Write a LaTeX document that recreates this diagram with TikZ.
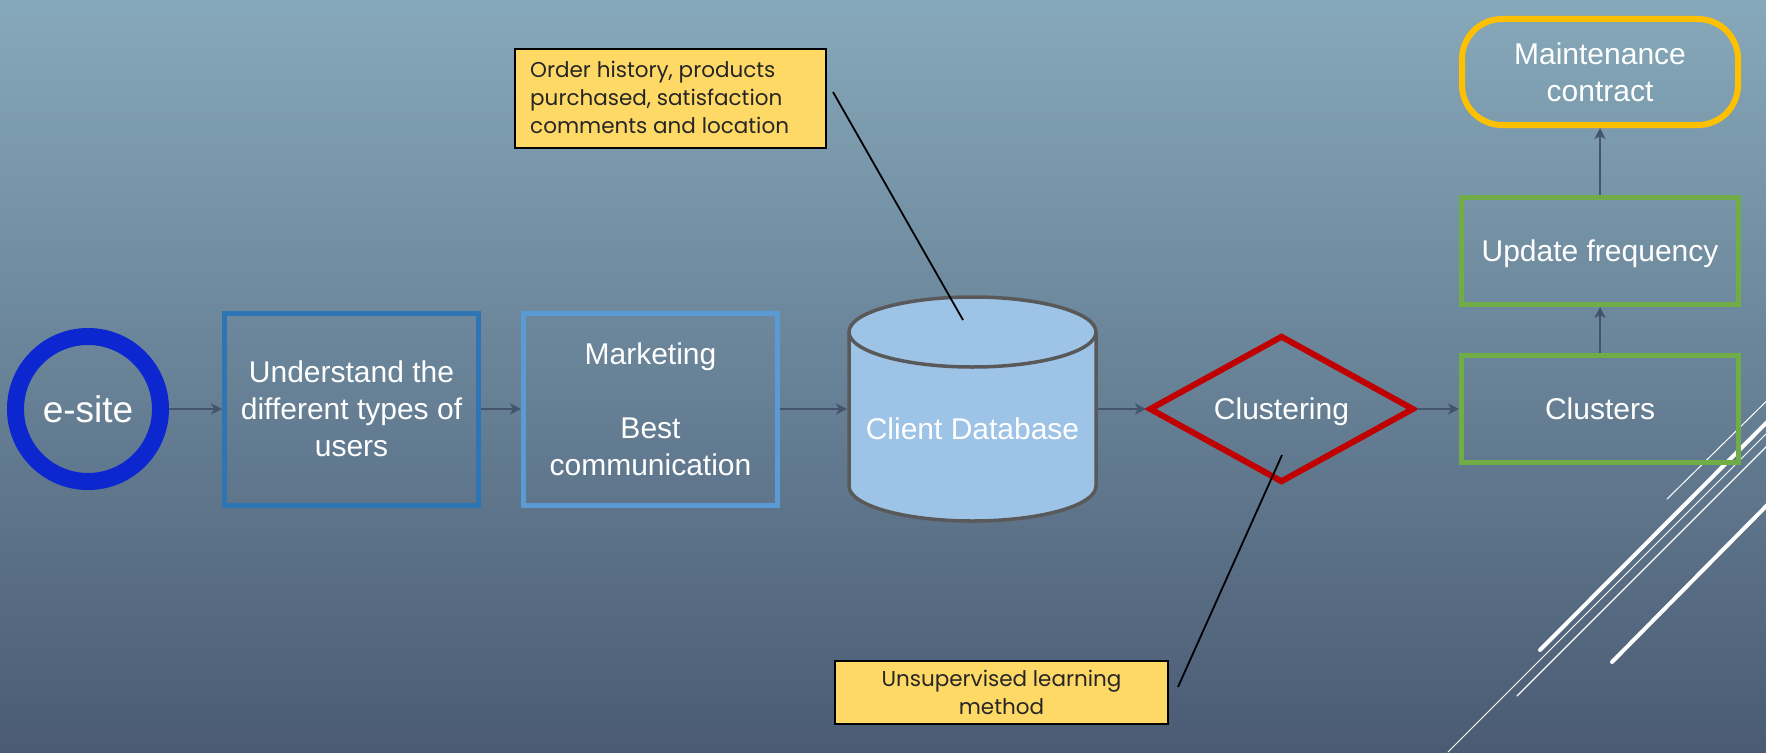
\documentclass[tikz,border=0pt]{standalone}
\usepackage{fontspec}
\setmainfont{Liberation Sans}
\newfontfamily\notefont{Poppins}
\usetikzlibrary{shapes.geometric,arrows.meta}
\definecolor{bgtop}{HTML}{86A9BA}
\definecolor{bgbot}{HTML}{4A5B73}
\definecolor{arr}{HTML}{44546A}
\definecolor{blueA}{HTML}{2E75B6}
\definecolor{blueB}{HTML}{5B9BD5}
\definecolor{ringblue}{HTML}{0C26D0}
\definecolor{dbfill}{HTML}{9DC3E6}
\definecolor{dbline}{HTML}{595959}
\definecolor{redD}{HTML}{C00000}
\definecolor{greenB}{HTML}{70AD47}
\definecolor{goldB}{HTML}{FFC000}
\definecolor{noteY}{HTML}{FFD966}
\tikzset{
  boxtext/.style={text=white,font=\fontsize{30}{37}\selectfont,align=center},
  stepbox/.style={rectangle,draw,line width=5pt,boxtext,minimum width=254pt,minimum height=192pt,inner sep=0pt},
  greenbox/.style={rectangle,draw=greenB,line width=5pt,boxtext,text depth=0pt,minimum width=277pt,minimum height=107pt,inner sep=0pt},
  flow/.style={draw=arr,line width=2.5pt,-{Stealth[length=11pt,width=11pt,inset=3pt]}},
  notefont/.style={text=black!85,inner sep=0pt,font=\notefont\fontsize{21.5}{28}\selectfont},
  notebox/.style={rectangle,draw=black,line width=2pt,fill=noteY,notefont},
  pointer/.style={draw=black,line width=1.8pt},
  deco/.style={draw=white,line cap=round}
}
\begin{document}
\begin{tikzpicture}[x=1pt,y=-1pt]
\useasboundingbox (0,0) rectangle (1766,752);
\shade[top color=bgtop,bottom color=bgbot] (0,0) rectangle (1766,752);
% decorative lines
\draw[deco,line width=1pt] (1667,499) -- (1790,378);
\draw[deco,line width=4pt] (1540,650) -- (1790,399);
\draw[deco,line width=1pt] (1448,752) -- (1790,410);
\draw[deco,line width=1.2pt] (1517,696) -- (1790,423);
\draw[deco,line width=4pt] (1612,662) -- (1790,482);
% nodes
\node[circle,draw=ringblue,line width=17pt,minimum size=145pt,inner sep=0pt,text=white,font=\fontsize{37}{44}\selectfont] (esite) at (88,409) {e-site};
\node[stepbox,draw=blueA] (understand) at (351.5,409) {Understand the\\different types of\\users};
\node[stepbox,draw=blueB] (marketing) at (650.5,409) {Marketing\\[37pt]Best\\communication};
\node[rectangle,minimum width=251pt,minimum height=228pt,inner sep=0pt,outer sep=0pt] (db) at (972.5,409) {};
\draw[draw=dbline,fill=dbfill,line width=3.5pt]
  (849,332) -- (849,486) arc[start angle=180,end angle=0,x radius=123.5,y radius=35] -- (1096,332)
  arc[start angle=0,end angle=-180,x radius=123.5,y radius=35] -- cycle;
\draw[draw=dbline,line width=3.5pt] (849,332) arc[start angle=180,end angle=360,x radius=123.5,y radius=-35];
\node[boxtext] (dbtext) at (972.5,429) {Client Database};
\node[diamond,aspect=1.8,draw=redD,line width=6pt,minimum width=265pt,minimum height=147pt,inner sep=0pt,boxtext,text depth=0pt] (clustering) at (1281.5,409) {Clustering};
\node[greenbox] (clusters) at (1600,409) {Clusters};
\node[greenbox] (update) at (1600,251) {Update frequency};
\node[rectangle,rounded corners=40pt,draw=goldB,line width=6pt,minimum width=276pt,minimum height=106pt,inner sep=0pt,boxtext] (maint) at (1600,72) {Maintenance\\contract};
% notes
\node[notebox,minimum width=311pt,minimum height=99pt] (note1) at (670.5,98.5) {};
\node[notefont,anchor=north west,align=left] (note1text) at (530,61) {Order history, products\\purchased, satisfaction\\comments and location};
\node[notebox,minimum width=333pt,minimum height=63pt,align=center] (note2) at (1001.5,692) {Unsupervised learning\\method};
\coordinate (p1a) at (833,92);
\coordinate (p1b) at (963,320);
\coordinate (p2a) at (1178,687);
\coordinate (p2b) at (1282,455);
\draw[pointer] (p1a) -- (p1b);
\draw[pointer] (p2a) -- (p2b);
% connectors
\draw[flow] (esite.east) -- (understand.west);
\draw[flow] (understand.east) -- (marketing.west);
\draw[flow] (marketing.east) -- (db.west);
\draw[flow] (db.east) -- (clustering.west);
\draw[flow] (clustering.east) -- (clusters.west);
\draw[flow] (clusters.north) -- (update.south);
\draw[flow] (update.north) -- (maint.south);
\end{tikzpicture}
\end{document}
